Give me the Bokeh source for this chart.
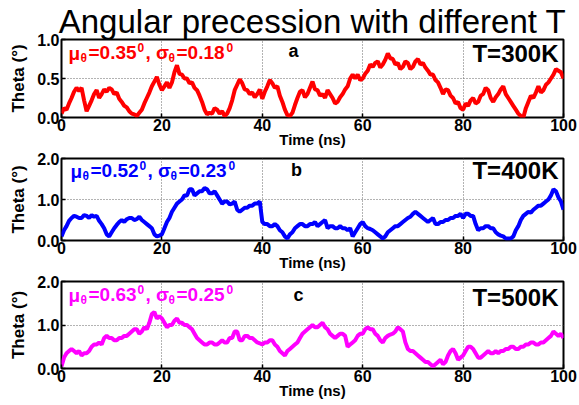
from bokeh.plotting import figure
from bokeh.layouts import column
from bokeh.models import Label, FixedTicker, PrintfTickFormatter
from bokeh.embed import file_html
from bokeh.resources import INLINE

# ---------------- data ----------------
time_ns = [i * 0.5 for i in range(201)]  # sampling grid 0 .. 100 ns

theta_300K = [
    0.05, 0.12, 0.10, 0.18, 0.25, 0.33, 0.38, 0.34, 0.38, 0.22, 0.08, 0.15, 0.22, 0.30, 0.35, 0.25, 0.30, 0.36, 0.33, 0.38,
    0.36, 0.30, 0.32, 0.24, 0.20, 0.15, 0.13, 0.08, 0.05, 0.04, 0.02, 0.06, 0.10, 0.18, 0.25, 0.32, 0.40, 0.46, 0.52, 0.42,
    0.35, 0.40, 0.45, 0.38, 0.45, 0.58, 0.67, 0.56, 0.55, 0.50, 0.50, 0.44, 0.45, 0.38, 0.35, 0.28, 0.20, 0.10, 0.04, 0.06,
    0.05, 0.12, 0.10, 0.05, 0.08, 0.02, 0.05, 0.12, 0.22, 0.35, 0.42, 0.49, 0.44, 0.36, 0.35, 0.30, 0.32, 0.26, 0.30, 0.36,
    0.24, 0.33, 0.40, 0.48, 0.44, 0.38, 0.40, 0.28, 0.20, 0.10, 0.03, 0.02, 0.06, 0.16, 0.25, 0.33, 0.35, 0.26, 0.30, 0.38,
    0.46, 0.36, 0.35, 0.28, 0.30, 0.25, 0.35, 0.30, 0.25, 0.18, 0.20, 0.26, 0.30, 0.36, 0.40, 0.50, 0.55, 0.50, 0.55, 0.48,
    0.50, 0.56, 0.60, 0.68, 0.65, 0.70, 0.72, 0.64, 0.68, 0.74, 0.82, 0.76, 0.75, 0.68, 0.70, 0.62, 0.65, 0.72, 0.70, 0.62,
    0.65, 0.72, 0.75, 0.68, 0.70, 0.64, 0.60, 0.55, 0.55, 0.48, 0.45, 0.38, 0.30, 0.36, 0.35, 0.28, 0.25, 0.18, 0.20, 0.12,
    0.10, 0.18, 0.15, 0.22, 0.25, 0.18, 0.20, 0.28, 0.30, 0.38, 0.35, 0.25, 0.20, 0.26, 0.30, 0.36, 0.40, 0.30, 0.25, 0.20,
    0.15, 0.10, 0.05, 0.02, 0.00, 0.12, 0.20, 0.28, 0.25, 0.32, 0.40, 0.32, 0.35, 0.42, 0.45, 0.50, 0.55, 0.62, 0.60, 0.58,
    0.50,
]

theta_400K = [
    0.10, 0.25, 0.35, 0.48, 0.55, 0.60, 0.58, 0.55, 0.55, 0.62, 0.60, 0.55, 0.62, 0.58, 0.60, 0.48, 0.40, 0.30, 0.15, 0.10,
    0.20, 0.30, 0.38, 0.45, 0.50, 0.45, 0.52, 0.55, 0.55, 0.50, 0.52, 0.58, 0.50, 0.45, 0.40, 0.35, 0.30, 0.15, 0.10, 0.12,
    0.15, 0.30, 0.45, 0.55, 0.70, 0.80, 0.90, 0.95, 1.00, 1.10, 1.10, 1.25, 1.25, 1.10, 1.15, 1.20, 1.20, 1.28, 1.25, 1.15,
    1.15, 1.20, 1.10, 1.00, 0.90, 0.95, 0.95, 0.88, 0.90, 0.95, 0.75, 0.70, 0.75, 0.80, 0.80, 0.85, 0.85, 0.90, 0.90, 0.95,
    0.45, 0.40, 0.40, 0.35, 0.35, 0.40, 0.35, 0.25, 0.20, 0.10, 0.05, 0.15, 0.20, 0.30, 0.35, 0.40, 0.40, 0.35, 0.35, 0.40,
    0.40, 0.45, 0.35, 0.40, 0.45, 0.50, 0.30, 0.35, 0.35, 0.30, 0.30, 0.35, 0.30, 0.30, 0.25, 0.30, 0.10, 0.20, 0.30, 0.40,
    0.45, 0.35, 0.30, 0.28, 0.25, 0.20, 0.15, 0.10, 0.05, 0.10, 0.20, 0.25, 0.30, 0.35, 0.35, 0.40, 0.45, 0.50, 0.55, 0.58,
    0.65, 0.70, 0.65, 0.60, 0.55, 0.50, 0.45, 0.50, 0.55, 0.40, 0.40, 0.45, 0.45, 0.50, 0.50, 0.55, 0.55, 0.60, 0.60, 0.65,
    0.55, 0.65, 0.65, 0.60, 0.60, 0.40, 0.25, 0.30, 0.30, 0.35, 0.35, 0.30, 0.30, 0.20, 0.15, 0.12, 0.10, 0.05, 0.05, 0.05,
    0.10, 0.25, 0.35, 0.50, 0.60, 0.65, 0.70, 0.68, 0.75, 0.80, 0.85, 0.85, 0.90, 0.95, 1.00, 1.10, 1.25, 1.20, 1.05, 0.95,
    0.75,
]

theta_500K = [
    0.05, 0.25, 0.35, 0.40, 0.45, 0.40, 0.35, 0.40, 0.30, 0.35, 0.35, 0.40, 0.50, 0.55, 0.55, 0.60, 0.55, 0.70, 0.75, 0.70,
    0.70, 0.65, 0.65, 0.70, 0.70, 0.75, 0.75, 0.80, 0.85, 0.90, 0.90, 0.80, 0.85, 0.95, 0.90, 1.05, 1.25, 1.30, 1.15, 1.20,
    1.15, 1.05, 0.95, 1.00, 1.00, 1.10, 1.15, 1.05, 1.05, 1.00, 1.00, 0.95, 0.90, 0.80, 0.70, 0.65, 0.60, 0.55, 0.55, 0.60,
    0.60, 0.55, 0.55, 0.60, 0.65, 0.60, 0.60, 0.70, 0.70, 0.85, 0.85, 0.65, 0.65, 0.75, 0.75, 0.70, 0.70, 0.65, 0.60, 0.58,
    0.55, 0.60, 0.60, 0.65, 0.65, 0.55, 0.50, 0.40, 0.35, 0.30, 0.40, 0.45, 0.50, 0.55, 0.60, 0.70, 0.80, 0.85, 0.90, 0.95,
    1.00, 0.95, 0.95, 1.00, 1.05, 0.95, 0.90, 0.80, 0.75, 0.70, 0.75, 0.80, 0.80, 0.75, 0.50, 0.55, 0.60, 0.65, 0.75, 0.80,
    0.80, 0.90, 0.95, 0.90, 0.90, 0.80, 0.75, 0.65, 0.60, 0.70, 0.75, 0.78, 0.80, 0.85, 0.95, 0.90, 0.85, 0.60, 0.45, 0.40,
    0.40, 0.35, 0.30, 0.25, 0.20, 0.15, 0.15, 0.10, 0.05, 0.10, 0.15, 0.20, 0.10, 0.15, 0.30, 0.40, 0.45, 0.35, 0.20, 0.25,
    0.30, 0.40, 0.50, 0.50, 0.45, 0.35, 0.25, 0.25, 0.30, 0.35, 0.40, 0.35, 0.35, 0.40, 0.35, 0.40, 0.40, 0.45, 0.45, 0.50,
    0.50, 0.45, 0.45, 0.50, 0.50, 0.55, 0.55, 0.60, 0.60, 0.55, 0.55, 0.60, 0.60, 0.65, 0.70, 0.75, 0.85, 0.80, 0.75, 0.80,
    0.70,
]

x_ticks = [0, 20, 40, 60, 80, 100]
y_ticks_a = [0.0, 0.5, 1.0]
y_ticks_bc = [0.0, 1.0, 2.0]

panel_letters = ["a", "b", "c"]
temperatures = ["T=300K", "T=400K", "T=500K"]
mu_values = ["=0.35", "=0.52", "=0.63"]
sigma_values = ["=0.18", "=0.23", "=0.25"]
colors = ["#ff0000", "#0000ff", "#ff00ff"]
title_text = "Angular precession with different T"

FONT = "Liberation Sans"

# ---------------- layout geometry (page pixels) ----------------
FL, FW = 61, 502  # frame left, frame width
BL, BR = 61, 16   # borders left / right


def make_panel(theta, color, ymax, yticks, frame_h, top, bottom):
    p = figure(width=FW + BL + BR, height=frame_h + top + bottom,
               frame_width=FW, frame_height=frame_h,
               x_range=(0, 100), y_range=(0, ymax),
               output_backend="svg", toolbar_location=None,
               min_border_left=BL, min_border_right=BR,
               min_border_top=top, min_border_bottom=bottom)
    p.background_fill_color = "white"
    p.border_fill_color = "white"
    p.outline_line_color = "black"
    p.outline_line_width = 2

    p.xaxis.ticker = FixedTicker(ticks=x_ticks)
    p.yaxis.ticker = FixedTicker(ticks=yticks)
    p.yaxis.formatter = PrintfTickFormatter(format="%.1f")
    for ax in (p.xaxis, p.yaxis):
        ax.axis_line_color = None
        ax.major_tick_in = 4
        ax.major_tick_out = 0
        ax.minor_tick_line_color = None
        ax.major_tick_line_color = "black"
        ax.major_tick_line_width = 1.5
        ax.major_label_text_font = FONT
        ax.major_label_text_font_style = "bold"
        ax.major_label_text_font_size = "16px"
        ax.major_label_text_color = "black"
        ax.axis_label_text_font = FONT
        ax.axis_label_text_font_style = "bold"
        ax.axis_label_text_color = "black"
    p.xaxis.major_label_standoff = 1
    p.yaxis.major_label_standoff = 2
    p.xaxis.axis_label = "Time (ns)"
    p.xaxis.axis_label_text_font_size = "15px"
    p.xaxis.axis_label_standoff = -3
    p.yaxis.axis_label = "Theta (°)"
    p.yaxis.axis_label_text_font_size = "17px"
    p.yaxis.axis_label_standoff = 6

    p.xgrid.ticker = FixedTicker(ticks=x_ticks)
    p.ygrid.ticker = FixedTicker(ticks=yticks)
    for g in (p.xgrid, p.ygrid):
        g.grid_line_color = "#666666"
        g.grid_line_dash = "1 2"
        g.grid_line_width = 1

    p.line(time_ns, theta, line_color=color, line_width=4)
    return p


def put(p, text, px, py, size, color, fb, fh, ymax, align="left", style="bold"):
    # (px, py): page position of the text's left/centre/right edge and vertical middle
    x = (px - FL) / FW * 100.0
    y = (fb - py) / fh * ymax
    p.add_layout(Label(x=x, y=y, text=text, text_font=FONT,
                       text_font_size=f"{size}px", text_font_style=style,
                       text_color=color, text_align=align,
                       text_baseline="middle"))


def stats_text(p, i, x0, mid, fb, fh, ymax):
    c = colors[i]
    put(p, "μ", x0, mid + 1, 19, c, fb, fh, ymax)
    put(p, "θ", x0 + 12, mid + 5, 12, c, fb, fh, ymax)
    put(p, mu_values[i], x0 + 20, mid, 19, c, fb, fh, ymax)
    put(p, "0", x0 + 69, mid - 5, 12, c, fb, fh, ymax)
    put(p, ", σ", x0 + 77, mid, 19, c, fb, fh, ymax)
    put(p, "θ", x0 + 100, mid + 5, 12, c, fb, fh, ymax)
    put(p, sigma_values[i], x0 + 108, mid, 19, c, fb, fh, ymax)
    put(p, "0", x0 + 158, mid - 5, 12, c, fb, fh, ymax)


# panel a: frame 39..117 ; figure 0..150
pa = make_panel(theta_300K, colors[0], 1.0, y_ticks_a, 78, 39, 33)
pa.title.text = title_text
pa.title.text_font = FONT
pa.title.text_font_size = "33px"
pa.title.text_font_style = "normal"
pa.title.text_color = "black"
pa.title.align = "center"
pa.title.standoff = 0
fb, fh = 117, 78
stats_text(pa, 0, 68, 52, fb, fh, 1.0)
put(pa, panel_letters[0], 293, 50, 18, "black", fb, fh, 1.0, align="center")
put(pa, temperatures[0], 558, 53, 24, "black", fb, fh, 1.0, align="right")

# panel b: frame 158..240 ; figure 150..270
pb = make_panel(theta_400K, colors[1], 2.0, y_ticks_bc, 82, 8, 30)
fb, fh = 240, 82
stats_text(pb, 1, 70, 170, fb, fh, 2.0)
put(pb, panel_letters[1], 296, 169, 18, "black", fb, fh, 2.0, align="center")
put(pb, temperatures[1], 558, 170, 24, "black", fb, fh, 2.0, align="right")

# panel c: frame 278..365 ; figure 270..397
pc = make_panel(theta_500K, colors[2], 2.0, y_ticks_bc, 87, 8, 32)
fb, fh = 365, 87
stats_text(pc, 2, 68, 291, fb, fh, 2.0)
put(pc, panel_letters[2], 298, 291, 18, "black", fb, fh, 2.0, align="center")
put(pc, temperatures[2], 558, 294, 24, "black", fb, fh, 2.0, align="right")

layout = column(pa, pb, pc, spacing=0)
open("out.html", "w").write(file_html(layout, INLINE))
